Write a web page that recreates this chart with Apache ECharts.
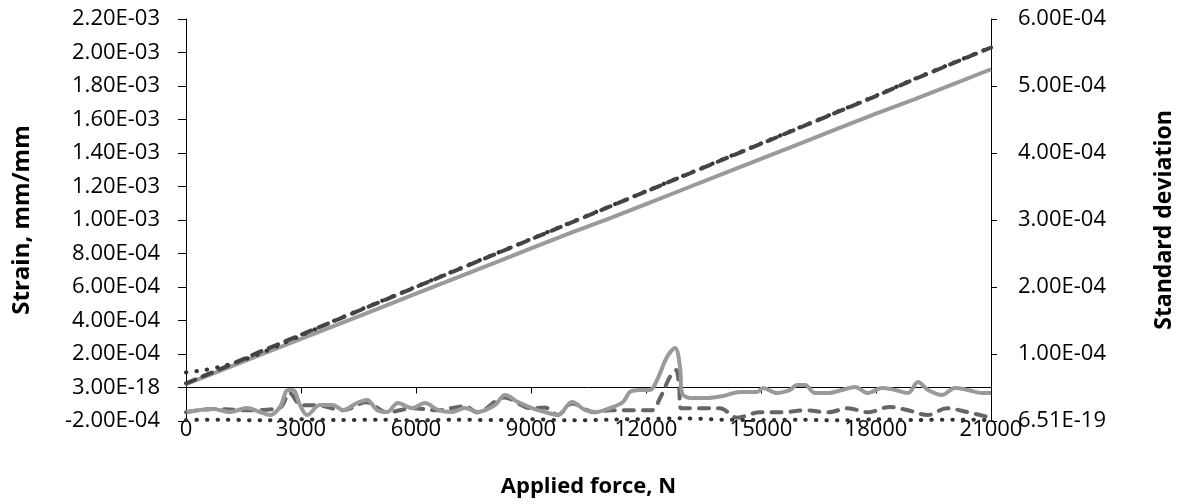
<!DOCTYPE html>
<html>
<head>
<meta charset="utf-8">
<script src="https://cdn.jsdelivr.net/npm/echarts@6/dist/echarts.min.js"></script>
<style>
  html, body { margin: 0; padding: 0; background: #fff; }
  #chart1 { width: 1187px; height: 504px; }
</style>
</head>
<body>
<div id="chart1"></div>
<script>
// strain lines (left axis), read every 1000 N
var forceStrain = [0, 1000, 2000, 3000, 4000, 5000, 6000, 7000, 8000, 9000, 10000,
    11000, 12000, 13000, 14000, 15000, 16000, 17000, 18000, 19000, 20000, 21000];
var strainSolid = [2.0e-5, 1.1e-4, 2.0e-4, 2.9e-4, 3.8e-4, 4.7e-4, 5.6e-4, 6.5e-4, 7.4e-4, 8.3e-4, 9.2e-4,
    1.005e-3, 1.095e-3, 1.185e-3, 1.275e-3, 1.365e-3, 1.455e-3, 1.545e-3, 1.635e-3, 1.72e-3, 1.81e-3, 1.90e-3];
var strainDashed = [2.5e-5, 1.2e-4, 2.2e-4, 3.15e-4, 4.1e-4, 5.05e-4, 6.0e-4, 6.95e-4, 7.9e-4, 8.85e-4, 9.8e-4,
    1.075e-3, 1.17e-3, 1.265e-3, 1.36e-3, 1.455e-3, 1.55e-3, 1.645e-3, 1.74e-3, 1.84e-3, 1.935e-3, 2.03e-3];

var forceStrainDot = [0, 500, 1000, 1500, 2000, 2500, 3000, 4000, 5000, 6000, 7000, 8000, 9000, 10000,
    11000, 12000, 13000, 14000, 15000, 16000, 17000, 18000, 19000, 20000, 21000];
var strainDotted = [9.0e-5, 1.05e-4, 1.3e-4, 1.65e-4, 2.1e-4, 2.6e-4, 3.1e-4, 4.12e-4, 5.07e-4, 6.02e-4, 6.97e-4,
    7.92e-4, 8.87e-4, 9.82e-4, 1.077e-3, 1.172e-3, 1.267e-3, 1.362e-3, 1.457e-3, 1.552e-3, 1.647e-3,
    1.742e-3, 1.842e-3, 1.937e-3, 2.032e-3];

// standard deviation lines (right axis)
var forceStd = [26, 704, 1148, 1591, 1930, 2191, 2452, 2661, 2791, 2974, 3157, 3496, 3835, 4096, 4461, 4722,
    4983, 5243, 5530, 5896, 6235, 6574, 6939, 7278, 7617, 8061, 8322, 8661, 9026, 9365, 9704, 10070,
    10409, 10670, 11061, 11400, 11583, 11843, 12104, 12287, 12548, 12757, 12887, 12939, 13148, 13591,
    14009, 14452, 14896, 15052, 15417, 15757, 15939, 16148, 16409, 16748, 17113, 17452, 17791, 18157,
    18496, 18835, 19096, 19357, 19722, 20061, 20400, 20765, 21000];
var stdSolid = [1.34e-5, 1.79e-5, 1.34e-5, 1.94e-5, 1.34e-5, 0.90e-5, 2.09e-5, 4.63e-5, 4.63e-5, 2.39e-5, 0.90e-5,
    2.39e-5, 2.39e-5, 1.64e-5, 2.69e-5, 3.13e-5, 1.64e-5, 1.34e-5, 2.69e-5, 1.94e-5, 2.69e-5, 1.64e-5,
    1.34e-5, 1.94e-5, 1.34e-5, 2.39e-5, 3.88e-5, 2.84e-5, 1.94e-5, 1.34e-5, 0.90e-5, 2.84e-5, 1.64e-5,
    1.34e-5, 1.94e-5, 2.84e-5, 4.33e-5, 4.63e-5, 4.63e-5, 6.12e-5, 9.55e-5, 10.9e-5, 8.06e-5, 4.18e-5,
    3.43e-5, 3.43e-5, 3.73e-5, 4.33e-5, 4.33e-5, 4.93e-5, 4.18e-5, 4.63e-5, 5.37e-5, 5.37e-5, 4.18e-5,
    4.18e-5, 4.63e-5, 5.07e-5, 4.18e-5, 4.93e-5, 4.63e-5, 4.18e-5, 5.82e-5, 4.63e-5, 3.88e-5, 4.93e-5,
    4.63e-5, 4.18e-5, 4.18e-5];

var forceStdDashed = [0, 700, 1600, 2450, 2700, 3000, 3500, 4100, 4700, 5250, 5900, 6550, 7280, 7600, 8300,
    9000, 9365, 9700, 10070, 10670, 11061, 11400, 12150, 12365, 12626, 12783, 12860, 12913, 13330, 13930,
    14374, 14974, 15574, 16148, 16748, 17270, 17791, 18365, 18835, 19357, 19852, 20400, 20922];
var stdDashed = [1.3e-5, 1.8e-5, 1.6e-5, 2.0e-5, 4.2e-5, 2.4e-5, 2.3e-5, 1.6e-5, 2.8e-5, 1.3e-5, 1.9e-5,
    1.6e-5, 2.2e-5, 1.3e-5, 3.5e-5, 1.9e-5, 2.0e-5, 0.9e-5, 2.6e-5, 1.3e-5, 1.6e-5, 1.6e-5, 1.6e-5,
    3.4e-5, 6.6e-5, 7.6e-5, 5.4e-5, 1.9e-5, 1.9e-5, 1.9e-5, 0.5e-5, 1.3e-5, 1.3e-5, 1.6e-5, 1.3e-5,
    1.9e-5, 1.3e-5, 2.1e-5, 1.6e-5, 0.9e-5, 1.9e-5, 1.3e-5, 0.6e-5];

var forceStdDot = forceStrain;
var stdDotted = [1.5e-6, 2e-6, 1e-6, 2.5e-6, 1.5e-6, 2e-6, 1e-6, 2e-6, 1.5e-6, 2.5e-6, 1e-6,
    2e-6, 3e-6, 4e-6, 2e-6, 1.5e-6, 2e-6, 1e-6, 2.5e-6, 1.5e-6, 2e-6, 1.5e-6];

// tick labels
var leftTicks = ['-2.00E-04', '3.00E-18', '2.00E-04', '4.00E-04', '6.00E-04', '8.00E-04', '1.00E-03',
    '1.20E-03', '1.40E-03', '1.60E-03', '1.80E-03', '2.00E-03', '2.20E-03'];
var rightTicks = ['6.51E-19', '1.00E-04', '2.00E-04', '3.00E-04', '4.00E-04', '5.00E-04', '6.00E-04'];

function pairs(xs, ys) {
    var out = [];
    for (var i = 0; i < xs.length; i++) {
        out.push([xs[i], ys[i]]);
    }
    return out;
}

var FONT = '"Open Sans", sans-serif';
var black = '#000';

var chart = echarts.init(document.getElementById('chart1'));

chart.setOption({
    animation: false,
    backgroundColor: '#fff',
    textStyle: { fontFamily: FONT },
    grid: { left: 186, right: 196, top: 19, bottom: 83, containLabel: false, outerBoundsMode: 'none' },
    xAxis: [{
        type: 'value',
        position: 'bottom',
        min: 0, max: 21000, interval: 3000,
        name: 'Applied force, N',
        nameLocation: 'middle',
        nameGap: 55,
        nameTextStyle: { fontFamily: FONT, fontSize: 22, fontWeight: 'bold', color: black },
        axisLine: { show: false, onZero: false },
        axisTick: { show: false },
        splitLine: { show: false },
        axisLabel: {
            fontFamily: FONT, fontSize: 22, color: black, margin: -2,
            formatter: function (v) { return String(v); }
        }
    }, {
        type: 'value',
        position: 'bottom',
        min: 0, max: 21000, interval: 3000,
        axisLine: { show: true, onZero: true, onZeroAxisIndex: 0, lineStyle: { color: black, width: 1 } },
        axisTick: { show: true, length: 6, lineStyle: { color: black } },
        axisLabel: { show: false },
        splitLine: { show: false }
    }],
    yAxis: [{
        type: 'value',
        position: 'left',
        min: -2e-4, max: 2.2e-3, interval: 2e-4,
        name: 'Strain, mm/mm',
        nameLocation: 'middle',
        nameGap: 152,
        nameTextStyle: { fontFamily: FONT, fontSize: 24, fontWeight: 'bold', color: black },
        axisLine: { show: true, onZero: false, lineStyle: { color: black, width: 1 } },
        axisTick: { show: true, length: 8, lineStyle: { color: black } },
        splitLine: { show: false },
        axisLabel: {
            fontFamily: FONT, fontSize: 22, color: black, margin: 26,
            formatter: function (v) {
                return leftTicks[Math.round((v + 2e-4) / 2e-4)];
            }
        }
    }, {
        type: 'value',
        position: 'right',
        min: 0, max: 6e-4, interval: 1e-4,
        name: 'Standard deviation',
        nameLocation: 'middle',
        nameGap: 162,
        nameRotate: 90,
        nameTextStyle: { fontFamily: FONT, fontSize: 23, fontWeight: 'bold', color: black },
        axisLine: { show: true, onZero: false, lineStyle: { color: black, width: 1 } },
        axisTick: { show: true, length: 6, lineStyle: { color: black } },
        splitLine: { show: false },
        axisLabel: {
            fontFamily: FONT, fontSize: 22, color: black, margin: 27,
            formatter: function (v) {
                return rightTicks[Math.round(v / 1e-4)];
            }
        }
    }],
    series: [{
        name: 'strain solid',
        type: 'line',
        yAxisIndex: 0,
        showSymbol: false,
        data: pairs(forceStrain, strainSolid),
        lineStyle: { color: '#9a9a9a', width: 4 }
    }, {
        name: 'strain dotted',
        type: 'line',
        yAxisIndex: 0,
        showSymbol: false,
        smooth: 0.3,
        data: pairs(forceStrainDot, strainDotted),
        lineStyle: { color: '#333', width: 4, type: [0.5, 10], cap: 'round' }
    }, {
        name: 'strain dashed',
        type: 'line',
        yAxisIndex: 0,
        showSymbol: false,
        data: pairs(forceStrain, strainDashed),
        lineStyle: { color: '#444', width: 4, type: [10, 8], cap: 'round' }
    }, {
        name: 'std dashed',
        type: 'line',
        yAxisIndex: 1,
        showSymbol: false,
        smooth: 0.35,
        data: pairs(forceStdDashed, stdDashed),
        lineStyle: { color: '#666', width: 4, type: [10, 9], cap: 'round' }
    }, {
        name: 'std solid',
        type: 'line',
        yAxisIndex: 1,
        showSymbol: false,
        smooth: 0.35,
        data: pairs(forceStd, stdSolid),
        lineStyle: { color: '#9a9a9a', width: 4 }
    }, {
        name: 'std dotted',
        type: 'line',
        yAxisIndex: 1,
        showSymbol: false,
        smooth: 0.3,
        data: pairs(forceStdDot, stdDotted),
        lineStyle: { color: '#333', width: 4, type: [0.5, 10], cap: 'round' }
    }]
});
</script>
</body>
</html>
